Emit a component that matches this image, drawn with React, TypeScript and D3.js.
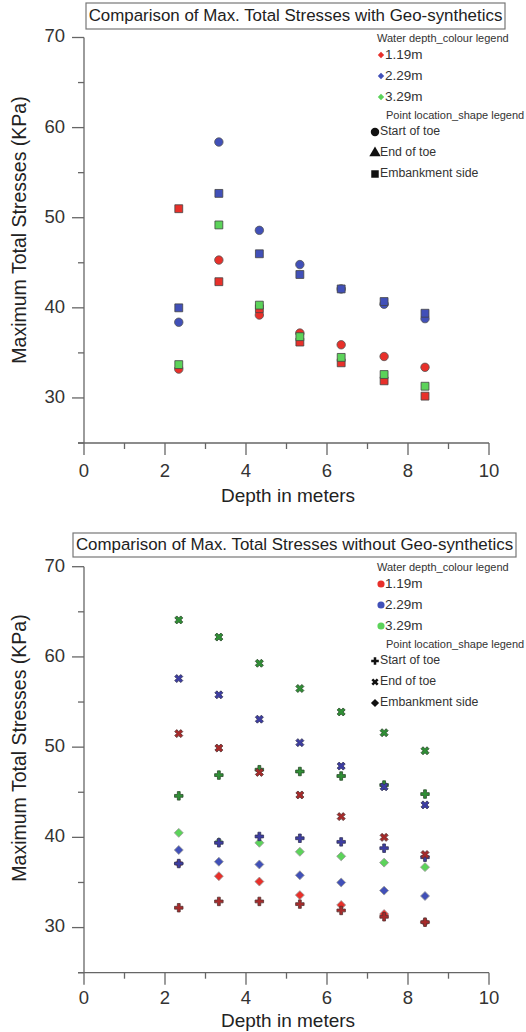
import React from "react";
import * as d3 from "d3";

// ---------- shared ----------
const depths = [2.34, 3.33, 4.33, 5.33, 6.35, 7.41, 8.42];
const xTicks = [0, 2, 4, 6, 8, 10];
const yTicks = [30, 40, 50, 60, 70];
const waterDepths = ["1.19m", "2.29m", "3.29m"];

// ---------- top chart: with geo-synthetics ----------
const topTitle = "Comparison of Max. Total Stresses with Geo-synthetics";
const topShapes = ["Start of toe", "End of toe", "Embankment side"];
const withRedStart = [33.2, 45.3, 39.2, 37.2, 35.9, 34.6, 33.4];
const withBlueStart = [38.4, 58.4, 48.6, 44.8, 42.1, 40.4, 38.8];
const withRedEmb = [51.0, 42.9, 39.9, 36.2, 33.9, 31.9, 30.2];
const withBlueEmb = [40.0, 52.7, 46.0, 43.7, 42.1, 40.7, 39.4];
const withGreenEmb = [33.7, 49.2, 40.3, 36.8, 34.5, 32.6, 31.3];

// ---------- bottom chart: without geo-synthetics ----------
const botTitle = "Comparison of Max. Total Stresses without Geo-synthetics";
const botShapes = ["Start of toe", "End of toe", "Embankment side"];
const woRedStart = [32.2, 32.9, 32.9, 32.6, 31.9, 31.2, 30.6];
const woBlueStart = [37.1, 39.4, 40.1, 39.9, 39.5, 38.8, 37.8];
const woGreenStart = [44.6, 46.9, 47.5, 47.3, 46.8, 45.8, 44.8];
const woRedEnd = [51.5, 49.9, 47.2, 44.7, 42.3, 40.0, 38.1];
const woBlueEnd = [57.6, 55.8, 53.1, 50.5, 47.9, 45.6, 43.6];
const woGreenEnd = [64.1, 62.2, 59.3, 56.5, 53.9, 51.6, 49.6];
const woRedEmb = [37.1, 35.7, 35.1, 33.6, 32.5, 31.5, 30.6];
const woBlueEmb = [38.6, 37.3, 37.0, 35.8, 35.0, 34.1, 33.5];
const woGreenEmb = [40.5, 39.5, 39.4, 38.4, 37.9, 37.2, 36.7];

const FONT = "'Liberation Sans', Arial, Helvetica, sans-serif";

type Marker = "circle" | "square" | "triangle" | "diamond" | "plus" | "times";
type Series = { values: number[]; marker: Marker; fill: string; stroke: string };

const symbolPath = (m: Marker, size: number) => {
  const t =
    m === "circle" ? d3.symbolCircle :
    m === "square" ? d3.symbolSquare :
    m === "triangle" ? d3.symbolTriangle :
    m === "diamond" ? d3.symbolSquare :
    d3.symbolCross;
  return d3.symbol().type(t).size(size)() as string;
};
const rot = (m: Marker) => (m === "diamond" || m === "times" ? 45 : 0);

const RED = "#e8302a", BLUE = "#4150b8", GREEN = "#5cd35a";
const DRED = "#a82a2a", DBLUE = "#3d3da3", DGREEN = "#2f8f35";

const topSeries: Series[] = [
  { values: withRedStart, marker: "circle", fill: RED, stroke: "#555" },
  { values: withBlueStart, marker: "circle", fill: BLUE, stroke: "#555" },
  { values: withBlueEmb, marker: "square", fill: BLUE, stroke: "#444" },
  { values: withRedEmb, marker: "square", fill: RED, stroke: "#444" },
  { values: withGreenEmb, marker: "square", fill: GREEN, stroke: "#444" },
];
const botSeries: Series[] = [
  { values: woRedEmb, marker: "diamond", fill: RED, stroke: "#999" },
  { values: woBlueEmb, marker: "diamond", fill: BLUE, stroke: "#999" },
  { values: woGreenEmb, marker: "diamond", fill: GREEN, stroke: "#999" },
  { values: woRedStart, marker: "plus", fill: DRED, stroke: "#553333" },
  { values: woBlueStart, marker: "plus", fill: DBLUE, stroke: "#333355" },
  { values: woGreenStart, marker: "plus", fill: DGREEN, stroke: "#2a4a2a" },
  { values: woRedEnd, marker: "times", fill: DRED, stroke: "#553333" },
  { values: woBlueEnd, marker: "times", fill: DBLUE, stroke: "#333355" },
  { values: woGreenEnd, marker: "times", fill: DGREEN, stroke: "#2a4a2a" },
];

const markerSize: Record<Marker, number> = {
  circle: 56, square: 62, triangle: 50, diamond: 40, plus: 40, times: 40,
};

type PanelProps = {
  top: number; // y of value 70
  bottom: number; // y of x-axis (value 25)
  title: string;
  titleBox: { x: number; y: number; w: number; h: number };
  series: Series[];
  colourMarker: Marker;
  colourSize: number;
  shapeMarkers: Marker[];
  shapeLabels: string[];
  legendY: number;
  yTitleY: number;
  tickLabelY: number;
  xTitleY: number;
};

function Panel(p: PanelProps) {
  const x = d3.scaleLinear().domain([0, 10]).range([84, 489]);
  const y = d3.scaleLinear().domain([25, 70]).range([p.bottom, p.top]);
  const axisColor = "#666";
  const minorY = d3.range(25, 70, 5).filter((v) => v % 10 !== 0);
  const minorX = d3.range(1, 10, 2);
  const lg = p.legendY;
  const colourYs = [lg + 16, lg + 37, lg + 58];
  const shapeTitleY = lg + 77;
  const shapeYs = [lg + 93, lg + 114, lg + 135];
  const legendColours = [RED, BLUE, GREEN];
  return (
    <g>
      <rect x={p.titleBox.x} y={p.titleBox.y} width={p.titleBox.w} height={p.titleBox.h}
        fill="#fff" stroke="#777" strokeWidth={1.2} />
      <text x={p.titleBox.x + p.titleBox.w / 2} y={p.titleBox.y + p.titleBox.h / 2 + 1}
        textAnchor="middle" dominantBaseline="middle" fontSize={16.9} fill="#222" fontFamily={FONT}>
        {p.title}
      </text>
      {/* axes */}
      <line x1={84} x2={84} y1={y(70)} y2={y(25)} stroke={axisColor} strokeWidth={1.3} />
      <line x1={78} x2={x(10)} y1={y(25)} y2={y(25)} stroke={axisColor} strokeWidth={1.3} />
      {yTicks.map((t) => (
        <g key={"yt" + t}>
          <line x1={72} x2={84} y1={y(t)} y2={y(t)} stroke={axisColor} strokeWidth={1.3} />
          <text x={65} y={y(t)} textAnchor="end" dominantBaseline="middle" fontSize={18.5}
            fill="#333" fontFamily={FONT}>{t}</text>
        </g>
      ))}
      {minorY.map((t) => (
        <line key={"ym" + t} x1={78} x2={84} y1={y(t)} y2={y(t)} stroke={axisColor} strokeWidth={1.3} />
      ))}
      {xTicks.map((t) => (
        <g key={"xt" + t}>
          <line x1={x(t)} x2={x(t)} y1={y(25)} y2={y(25) + 12} stroke={axisColor} strokeWidth={1.3} />
          <text x={x(t)} y={p.tickLabelY} textAnchor="middle" dominantBaseline="middle" fontSize={18.5}
            fill="#333" fontFamily={FONT}>{t}</text>
        </g>
      ))}
      {minorX.map((t) => (
        <line key={"xm" + t} x1={x(t)} x2={x(t)} y1={y(25)} y2={y(25) + 6} stroke={axisColor} strokeWidth={1.3} />
      ))}
      <text x={288} y={p.xTitleY} textAnchor="middle" dominantBaseline="middle" fontSize={19}
        fill="#222" fontFamily={FONT}>Depth in meters</text>
      <text transform={`translate(21,${p.yTitleY}) rotate(-90)`} textAnchor="middle"
        dominantBaseline="middle" fontSize={19.5} fill="#222" fontFamily={FONT}>
        Maximum Total Stresses (KPa)
      </text>
      {/* data */}
      {p.series.map((s, si) => (
        <g key={"s" + si}>
          {s.values.map((v, i) => (
            <path key={i} d={symbolPath(s.marker, markerSize[s.marker])}
              transform={`translate(${x(depths[i])},${y(v)}) rotate(${rot(s.marker)})`}
              fill={s.fill} stroke={s.stroke} strokeWidth={0.8} />
          ))}
        </g>
      ))}
      {/* legend */}
      <text x={377} y={lg} dominantBaseline="middle" fontSize={11} fill="#333" fontFamily={FONT}>
        Water depth_colour legend
      </text>
      {waterDepths.map((w, i) => (
        <g key={"c" + w}>
          <path d={symbolPath(p.colourMarker, p.colourSize)}
            transform={`translate(381,${colourYs[i]}) rotate(${rot(p.colourMarker)})`}
            fill={legendColours[i]} />
          <text x={385} y={colourYs[i]} dominantBaseline="middle" fontSize={13.5} fill="#333"
            fontFamily={FONT}>{w}</text>
        </g>
      ))}
      <text x={386} y={shapeTitleY} dominantBaseline="middle" fontSize={11} fill="#333" fontFamily={FONT}>
        Point location_shape legend
      </text>
      {p.shapeLabels.map((l, i) => (
        <g key={"sh" + l}>
          <path d={symbolPath(p.shapeMarkers[i], p.shapeMarkers[i] === "diamond" ? 34 : p.shapeMarkers[i] === "plus" || p.shapeMarkers[i] === "times" ? 32 : 56)}
            transform={`translate(375,${shapeYs[i]}) rotate(${rot(p.shapeMarkers[i])})`}
            fill="#111" />
          <text x={380} y={shapeYs[i]} dominantBaseline="middle" fontSize={12.3} fill="#333"
            fontFamily={FONT}>{l}</text>
        </g>
      ))}
    </g>
  );
}

export default function App() {
  return (
    <svg width={526} height={1032} style={{ position: "absolute", left: 0, top: 0, background: "#fff" }}>
      <rect x={0} y={0} width={526} height={1032} fill="#fff" />
      <Panel top={37.5} bottom={443} title={topTitle} titleBox={{ x: 86, y: 3, w: 419, h: 26 }}
        series={topSeries} colourMarker="diamond" colourSize={20}
        shapeMarkers={["circle", "triangle", "square"]} shapeLabels={topShapes}
        legendY={39} yTitleY={230} tickLabelY={472} xTitleY={497} />
      <Panel top={566.7} bottom={972.7} title={botTitle} titleBox={{ x: 73, y: 533, w: 443, h: 24 }}
        series={botSeries} colourMarker="circle" colourSize={40}
        shapeMarkers={["plus", "times", "diamond"]} shapeLabels={botShapes}
        legendY={568} yTitleY={748} tickLabelY={999} xTitleY={1022} />
    </svg>
  );
}
